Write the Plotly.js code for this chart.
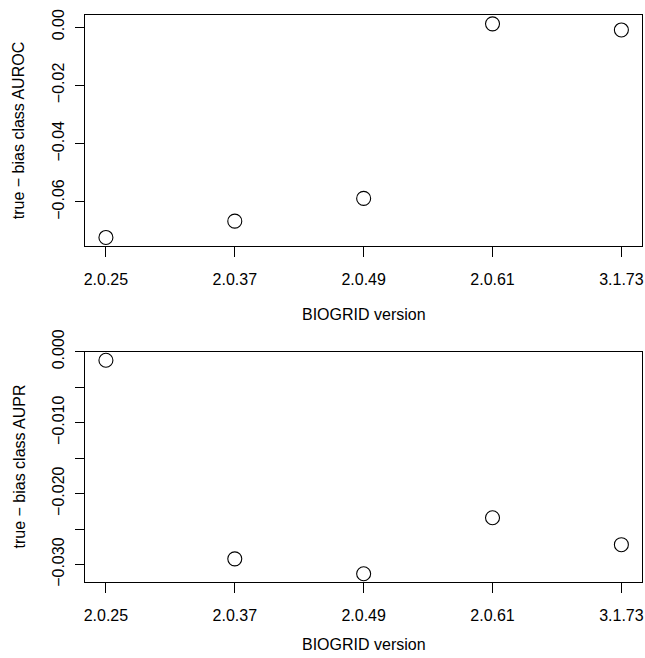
<!DOCTYPE html>
<html>
<head>
<meta charset="utf-8">
<script src="https://cdn.plot.ly/plotly-3.0.1.min.js"></script>
<style>
  html, body { margin: 0; padding: 0; background: #ffffff; }
  #plot { width: 645px; height: 658px; }
</style>
</head>
<body>
<div id="plot"></div>
<script>
// BIOGRID releases compared
const versions = ["2.0.25", "2.0.37", "2.0.49", "2.0.61", "3.1.73"];

// true minus bias-class scores per release
const aurocDiff = [-0.0722, -0.0666, -0.0588, 0.0011, -0.0010];
const auprDiff  = [-0.0012, -0.0292, -0.0313, -0.0234, -0.0272];

// y tick positions and their labels
const aurocTickVals = [0, -0.02, -0.04, -0.06];
const aurocTickText = ["0.00", "\u22120.02", "\u22120.04", "\u22120.06"];
const auprTickVals  = [0, -0.005, -0.010, -0.015, -0.020, -0.025, -0.030];
const auprTickText  = ["0.000", "", "\u22120.010", "", "\u22120.020", "", "\u22120.030"];

const xTitle = "BIOGRID version";
const aurocTitle = "true \u2212 bias class AUROC";
const auprTitle  = "true \u2212 bias class AUPR";

const W = 645, H = 658;
const FONT = "Liberation Sans, Arial, Helvetica, sans-serif";

// pad a data range by 4% on each side
function padRange(vals) {
  const lo = Math.min(...vals), hi = Math.max(...vals);
  const d = (hi - lo) * 0.04;
  return [lo - d, hi + d];
}

const xPos = versions.map((_, i) => i + 1);

const markerStyle = {
  symbol: "circle-open",
  size: 14,
  color: "#000000",
  line: { width: 1.1, color: "#000000" }
};

const traces = [
  {
    x: xPos, y: aurocDiff, xaxis: "x", yaxis: "y",
    type: "scatter", mode: "markers", marker: markerStyle,
    hoverinfo: "skip", showlegend: false
  },
  {
    x: xPos, y: auprDiff, xaxis: "x2", yaxis: "y2",
    type: "scatter", mode: "markers", marker: markerStyle,
    hoverinfo: "skip", showlegend: false
  }
];

const xDomain = [85.3 / W, 642 / W];
const topDomain = [1 - 246 / H, 1 - 15.3 / H];
const botDomain = [1 - 582.3 / H, 1 - 351.7 / H];

function xAxis(anchor) {
  return {
    domain: xDomain, anchor: anchor,
    range: [1 - 4 * 0.04, 5 + 4 * 0.04],
    tickmode: "array", tickvals: xPos, ticktext: versions,
    ticks: "outside", ticklen: 9.6, tickwidth: 1, tickcolor: "#000",
    showline: true, mirror: true, linecolor: "#000", linewidth: 1,
    showgrid: false, zeroline: false,
    tickfont: { family: FONT, size: 16, color: "#000" },
    ticklabelstandoff: 9
  };
}
function yAxis(anchor, domain, range, vals, text) {
  return {
    domain: domain, anchor: anchor, range: range,
    tickmode: "array", tickvals: vals, ticktext: text,
    tickangle: -90,
    ticks: "outside", ticklen: 9.6, tickwidth: 1, tickcolor: "#000",
    showline: true, mirror: true, linecolor: "#000", linewidth: 1,
    showgrid: false, zeroline: false,
    tickfont: { family: FONT, size: 16, color: "#000" },
    ticklabelstandoff: 4
  };
}

function titleAnn(text, x, y, angle) {
  return {
    text: text, xref: "paper", yref: "paper", x: x, y: y,
    xanchor: "center", yanchor: "middle", showarrow: false,
    textangle: angle || 0,
    font: { family: FONT, size: 16, color: "#000" }
  };
}

const xMid = (85.3 + 642) / 2 / W;

const layout = {
  width: W, height: H,
  margin: { l: 0, r: 0, t: 0, b: 0 },
  paper_bgcolor: "#ffffff", plot_bgcolor: "#ffffff",
  showlegend: false,
  xaxis: xAxis("y"),
  yaxis: yAxis("x", topDomain, padRange(aurocDiff), aurocTickVals, aurocTickText),
  xaxis2: xAxis("y2"),
  yaxis2: yAxis("x2", botDomain, padRange(auprDiff), auprTickVals, auprTickText),
  annotations: [
    titleAnn(xTitle, xMid, 1 - 314 / H),
    titleAnn(xTitle, xMid, 1 - 644 / H),
    titleAnn(aurocTitle, 18.5 / W, 1 - 130.7 / H, -90),
    titleAnn(auprTitle, 18.5 / W, 1 - 467 / H, -90)
  ]
};

Plotly.newPlot("plot", traces, layout, { staticPlot: true, displayModeBar: false });
</script>
</body>
</html>
